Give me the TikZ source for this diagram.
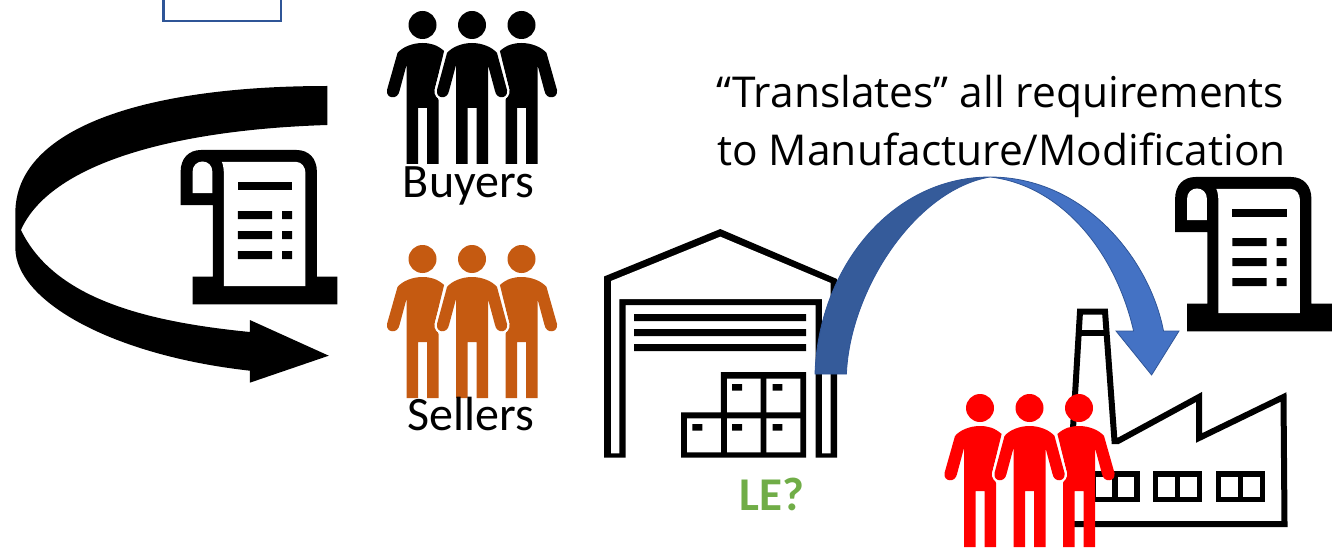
\documentclass[tikz,border=0pt]{standalone}
\usepackage{fontspec}
\setmainfont{Carlito}
\newfontfamily\headfont{Open Sans}
\newcommand\sidebody{(0,43) .. controls (-10,43) and (-20,47) .. (-25,53) -- (-35.5,90) .. controls (-37,99) and (-24.5,100) .. (-23,91) -- (-16,65) -- (-16,164) -- (-4.5,164) -- (-4.5,108) -- (4.5,108) -- (4.5,164) -- (16,164) -- (16,100) -- (12,90) -- (21.6,51) .. controls (15,45) and (8,43) .. (0,43) -- cycle}
\newcommand\midbody{(0,43) .. controls (-10,43) and (-20,47) .. (-25,53) -- (-35,90) .. controls (-36.5,99) and (-24.5,100) .. (-23,91) -- (-16,65) -- (-16,164) -- (-4.5,164) -- (-4.5,108) -- (4.5,108) -- (4.5,164) -- (16,164) -- (16,65) -- (23,91) .. controls (24.5,100) and (36.5,99) .. (35,90) -- (25,53) .. controls (20,47) and (10,43) .. (0,43) -- cycle}
\newcommand\peoplegroup[4]{%
  \begin{scope}[shift={(#1,#2)},xscale=#4]
    \fill[#3] (-49.5,25) ellipse (14 and 14);
    \fill[#3] (0,25) ellipse (14 and 14);
    \fill[#3] (49.5,25) ellipse (14 and 14);
    \begin{scope}[shift={(-49.5,0)}]\fill[#3] \sidebody;\end{scope}
    \begin{scope}[shift={(49.5,0)},xscale=-1]\fill[#3] \sidebody;\end{scope}
    \draw[white,line width=4.6pt] \midbody;
    \fill[#3] \midbody;
  \end{scope}}
\newcommand\scrollicon[2]{%
  \begin{scope}[shift={(#1,#2)},xscale=0.995]
    \fill[black] (181.5,205) -- (181.5,172) .. controls (181.5,158) and (190,150) .. (202,150) -- (298,150) .. controls (310,150) and (318.5,158) .. (318.5,172) -- (318.5,276.7) -- (339,276.7) -- (339,304.3) -- (193.5,304.3) -- (193.5,276.7) -- (214,276.7) -- (214,205) -- cycle;
    \fill[white] (223,162) -- (298,162) .. controls (303,162) and (307,167) .. (307,173) -- (307,286) -- (225,286) -- (225,175) .. controls (225,170) and (224.5,165) .. (223,162) -- cycle;
    \fill[white] (193.5,193) -- (193.5,172) .. controls (193.5,158) and (213.5,158) .. (213.5,172) -- (213.5,193) -- cycle;
    \fill[black] (239,182) rectangle (293.5,190);
    \fill[black] (239,211) rectangle (273.5,219) (283.5,211) rectangle (293.5,219);
    \fill[black] (239,231) rectangle (273.5,239) (283.5,231) rectangle (293.5,239);
    \fill[black] (239,251) rectangle (273.5,259) (283.5,251) rectangle (293.5,259);
  \end{scope}}
\tikzset{
  label text/.style={inner sep=0pt,anchor=base,font=\fontsize{48}{48}\selectfont},
  head text/.style={inner sep=0pt,anchor=base,font=\headfont\fontsize{42.5}{42.5}\selectfont},
  factory line/.style={draw=black,line width=6pt,miter limit=10},
  window/.style={draw=black,line width=5.5pt,fill=white}
}
\definecolor{boxblue}{HTML}{2F5597}
\begin{document}
\begin{tikzpicture}[x=1pt,y=-1pt]
\useasboundingbox (0,0) rectangle (1332,548);
% blue box at the top
\draw[boxblue,line width=2.5pt] (163.5,-5) rectangle (281,21);
% big black arrow
\begin{scope}[xscale=0.9962]
\fill[black] (328.5,86) .. controls (140,86) and (15.4,130) .. (15.4,213) -- (15.4,248)
  .. controls (15.4,300) and (110,355) .. (250.8,370.7) -- (250.8,382.7) -- (330,355.7) -- (250.8,320) -- (250.8,332)
  .. controls (150,322) and (55,300) .. (21,230) .. controls (50,165) and (170,130) .. (328.5,125) -- cycle;
\end{scope}
\scrollicon{0}{0}
\scrollicon{994.5}{27}
% people
\peoplegroup{472}{0}{black}{1}
\definecolor{sellerc}{HTML}{C55A11}
\peoplegroup{472}{234}{sellerc}{1}
\node[label text] (buyers) at (468.5,197) {Buyers};
\node[label text] (sellers) at (471,430) {Sellers};
% warehouse
\fill[black] (604,457.7) -- (604,276.5) -- (720.3,229) -- (837,279) -- (837,457.7) -- (815.6,457.7) -- (815.6,305) -- (625.5,305) -- (625.5,457.7) -- cycle;
\fill[white] (611,453.3) -- (611,281) -- (720.3,236.7) -- (830.7,283) -- (830.7,453.3) -- (822,453.3) -- (822,299) -- (619.4,299) -- (619.4,453.3) -- cycle;
\fill[black] (634,314) rectangle (806,321) (634,329) rectangle (806,336) (634,344) rectangle (806,351);
\fill[black] (681,457.7) -- (681,412.3) -- (720.8,412.3) -- (720.8,372) -- (806,372) -- (806,457.7) -- cycle;
\fill[white] (727,378.7) rectangle (760.6,412.3) (766.3,378.7) rectangle (800.4,412.3);
\fill[white] (687,418.3) rectangle (720.8,452.3) (727,418.3) rectangle (760.6,452.3) (766.3,418.3) rectangle (800.4,452.3);
\fill[black] (732,384) rectangle (742,390.7) (772.5,384) rectangle (782.4,390.7);
\fill[black] (692.4,424) rectangle (702.3,430.7) (732,424) rectangle (742,430.7) (772.5,424) rectangle (782.4,430.7);
\definecolor{legreen}{HTML}{70AD47}
\node[inner sep=0pt,anchor=base,font=\bfseries\fontsize{47}{47}\selectfont,text=legreen] (le) at (771.5,510) {LE?};
% factory
\draw[factory line] (1072,445) -- (1080,311.5) -- (1105,311.5) -- (1114.5,441) -- (1118,441) -- (1199,397) -- (1199,438) -- (1283.5,397) -- (1284.5,524) -- (1072,524);
\draw[draw=black,line width=6pt] (1078,333) -- (1107,333);
\foreach \wx in {1090,1152.6,1215.6}{
  \draw[window] (\wx+3,474) rectangle (\wx+47,499.5);
  \draw[draw=black,line width=5.5pt] (\wx+25,474) -- (\wx+25,499.5);
}
\peoplegroup{1029.5}{383}{red}{1}
% blue curved arrow
\definecolor{bluedark}{HTML}{355B9A}
\definecolor{bluelight}{HTML}{4472C4}
\definecolor{blueedge}{HTML}{2F5597}
\fill[bluelight,draw=blueedge,line width=0.8pt] (990,177) .. controls (1085,177) and (1150,260) .. (1163.5,331) -- (1179,331) -- (1151.6,375) -- (1116,331) -- (1133.6,331) .. controls (1115,250) and (1060,185) .. (990,177) -- cycle;
\fill[bluedark,draw=blueedge,line width=0.8pt] (815,374) .. controls (818,270) and (890,177) .. (990,177) .. controls (915,190) and (850,290) .. (846.4,374) -- cycle;
% heading
\node[head text] (line one) at (1000.5,107.5) {“Translates” all requirements};
\node[head text] (line two) at (1001.5,165.5) {to Manufacture/Modification};
\end{tikzpicture}
\end{document}
